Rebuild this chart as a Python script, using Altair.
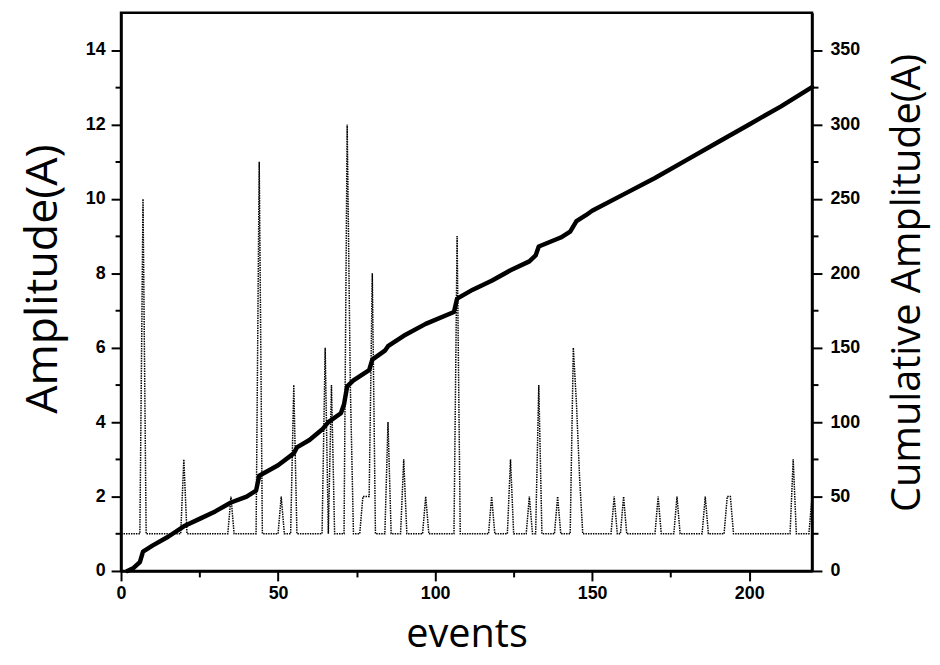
import altair as alt
import pandas as pd

# ---- data ----
n_events = 220
base_amp = 1
spike_events = [7, 20, 35, 44, 51, 55, 65, 67, 72, 73, 77, 78, 79, 80, 85, 90, 97, 107,
                118, 124, 130, 133, 139, 144, 145, 146, 157, 160, 171, 177, 186, 193, 194,
                214, 220]
spike_amps = [10, 3, 2, 11, 2, 5, 6, 5, 12, 5, 2, 2, 2, 8, 4, 3, 2, 9,
              2, 3, 2, 5, 2, 6, 4.5, 2.5, 2, 2, 2, 2, 2, 2, 2,
              3, 2]

cum_events = [2, 4, 6, 7, 10, 15, 20, 25, 30, 35, 40, 43, 44, 50, 55, 56, 60, 64, 66, 70,
              71, 72, 74, 79, 80, 84, 85, 90, 97, 106, 107, 112, 118, 124, 130, 132, 133,
              140, 143, 145, 148, 150, 160, 170, 180, 190, 200, 210, 220]
cum_values = [0, 2, 6, 13, 17, 23, 30, 35, 40, 46, 50, 54, 64, 71, 79, 83, 88, 95, 100, 106,
              112, 124, 128, 135, 142, 148, 151, 158, 166, 174, 183, 189, 195, 202, 208, 212, 218,
              224, 228, 235, 239, 242, 253, 264, 276, 288, 300, 312, 325]

x_major = [0, 50, 100, 150, 200]
x_minor = [25, 75, 125, 175]
amp_major = [0, 2, 4, 6, 8, 10, 12, 14]
amp_minor = [1, 3, 5, 7, 9, 11, 13]
cum_major = [0, 50, 100, 150, 200, 250, 300, 350]
cum_minor = [25, 75, 125, 175, 225, 275, 325]

amp_map = dict(zip(spike_events, spike_amps))
amp_df = pd.DataFrame({
    "event": list(range(n_events + 1)),
    "amp": [amp_map.get(e, base_amp) for e in range(n_events + 1)],
})
cum_df = pd.DataFrame({"event": cum_events, "cum": cum_values})

xscale = alt.Scale(domain=[0, 220], nice=False, zero=False)
amp_scale = alt.Scale(domain=[0, 15], nice=False)
cum_scale = alt.Scale(domain=[0, 375], nice=False)

LABEL_FONT = "Liberation Sans"
TITLE_FONT = "Open Sans"
MAJOR = 10
MINOR = 6

common = dict(
    labelFont=LABEL_FONT, labelFontSize=18, labelFontWeight="bold", labelColor="black",
    tickColor="black", tickWidth=2, domainColor="black", domainWidth=2.5,
    grid=False, labelFlush=False,
    titleFont=TITLE_FONT, titleFontWeight=500, titleColor="black",
)
minor_common = dict(tickSize=MINOR, labels=False, domain=False, title=None, grid=False,
                    tickColor="black", tickWidth=2)

x_main_axis = alt.Axis(values=x_major, tickSize=MAJOR, labelPadding=4, orient="bottom",
                       title="events", titlePadding=12, titleFontSize=40, **common)
x_minor_axis = alt.Axis(values=x_minor, orient="bottom", **minor_common)

amp_line = alt.Chart(amp_df).mark_line(
    color="black", strokeWidth=1.5, strokeDash=[1.5, 1]
).encode(
    x=alt.X("event:Q", scale=xscale, axis=x_main_axis),
    y=alt.Y("amp:Q", scale=amp_scale,
            axis=alt.Axis(values=amp_major, tickSize=MAJOR, labelPadding=6, orient="left",
                          title="Amplitude(A)", titlePadding=20, titleFontSize=45,
                          titleY=268, **common)),
)

amp_minor_layer = alt.Chart(amp_df).mark_point(opacity=0).encode(
    x=alt.X("event:Q", scale=xscale, axis=x_minor_axis),
    y=alt.Y("amp:Q", scale=amp_scale,
            axis=alt.Axis(values=amp_minor, orient="left", **minor_common)),
)

cum_line = alt.Chart(cum_df).mark_line(
    color="black", strokeWidth=4.5, strokeJoin="round", strokeCap="round"
).encode(
    x=alt.X("event:Q", scale=xscale, axis=None),
    y=alt.Y("cum:Q", scale=cum_scale,
            axis=alt.Axis(values=cum_major, tickSize=MAJOR, labelPadding=8, orient="right",
                          title="Cumulative Amplitude(A)", titlePadding=28, titleAngle=270,
                          titleBaseline="top", titleFontSize=40, titleY=272, **common)),
)

cum_minor_layer = alt.Chart(cum_df).mark_point(opacity=0).encode(
    x=alt.X("event:Q", scale=xscale, axis=None),
    y=alt.Y("cum:Q", scale=cum_scale,
            axis=alt.Axis(values=cum_minor, orient="right", **minor_common)),
)

chart = alt.layer(amp_line, amp_minor_layer, cum_line, cum_minor_layer).resolve_scale(
    y="independent"
).resolve_axis(
    x="independent", y="independent"
).properties(
    width=697, height=563,
    padding={"left": 114, "top": 2, "right": 121, "bottom": 92},
    autosize=alt.AutoSizeParams(type="none"),
    background="white",
).configure_view(stroke="black", strokeWidth=2.5)

chart.save("out.html", embed_options={"renderer": "svg", "actions": False})
